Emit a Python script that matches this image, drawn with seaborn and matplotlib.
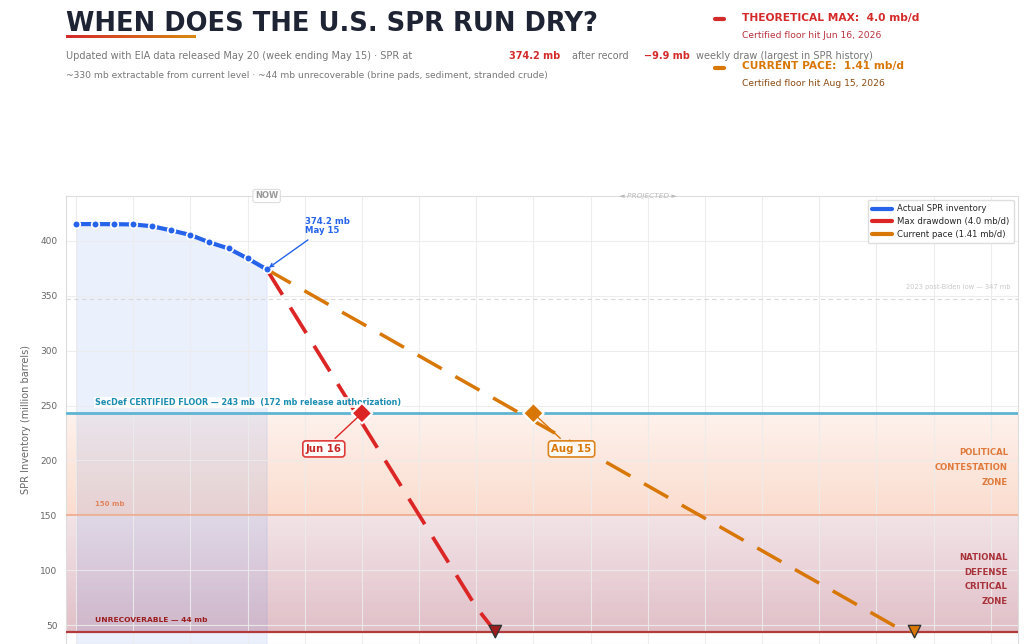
import numpy as np
import pandas as pd
import matplotlib
matplotlib.use("Agg")
import matplotlib.pyplot as plt
import matplotlib.transforms as mtransforms
from matplotlib.lines import Line2D
import seaborn as sns

# ---- data ----
hist_dates = pd.date_range("2026-03-06", "2026-05-15", freq="7D")
hist_mb = [415.4, 415.4, 415.3, 415.1, 413.4, 409.6, 405.5, 398.7, 393.2, 384.1, 374.2]

max_dates = pd.date_range("2026-05-15", periods=13, freq="7D")
max_mb = [374.2, 346.2, 318.2, 290.2, 262.2, 234.2, 206.2, 178.2, 150.2, 122.2,
          94.2, 66.2, 44.0]

pace_dates = pd.date_range("2026-05-15", periods=35, freq="7D")
pace_mb = [374.2, 364.3, 354.5, 344.6, 334.7, 324.9, 315.0, 305.1, 295.3, 285.4,
           275.5, 265.7, 255.8, 245.9, 236.1, 226.2, 216.3, 206.5, 196.6, 186.7,
           176.9, 167.0, 157.1, 147.3, 137.4, 127.5, 117.7, 107.8, 97.9, 88.1,
           78.2, 68.3, 58.5, 48.6, 44.0]

floor_hit_dates = pd.to_datetime(["2026-06-19", "2026-08-21"])
floor_hit_labels = ["Jun 16", "Aug 15"]
dry_dates = pd.to_datetime(["2026-08-07", "2027-01-08"])

floor_mb = 243
mid_mb = 150
unrec_mb = 44
low2023_mb = 347

BLUE = "#2563eb"
RED = "#dc2626"
ORANGE = "#d97706"

sns.set_theme(style="whitegrid")
plt.rcParams["font.family"] = ["DejaVu Sans"]

W, H = 1033, 644
fig = plt.figure(figsize=(W / 100, H / 100), dpi=100)
ax = fig.add_axes([66 / W, 0, 952 / W, 448 / H])


def fx(x):
    return x / W


def fy(y):
    return 1 - y / H


# zones as stacked thin bands (gradient look)
nb = 28
edges = np.linspace(floor_mb, mid_mb, nb + 1)
for i in range(nb):
    ax.axhspan(edges[i + 1], edges[i], color="#f08250", lw=0,
               alpha=0.11 + 0.17 * i / nb, zorder=0.2)
edges = np.linspace(mid_mb, unrec_mb, nb + 1)
for i in range(nb):
    ax.axhspan(edges[i + 1], edges[i], color="#9a2a45", lw=0,
               alpha=0.13 + 0.17 * i / nb, zorder=0.2)

# actual inventory + fill
ax.fill_between(hist_dates, hist_mb, 0, color=BLUE, alpha=0.09,
                edgecolor=(0.15, 0.39, 0.92, 0.25), lw=0.8, zorder=0.3)
sns.lineplot(x=hist_dates, y=hist_mb, ax=ax, color=BLUE, lw=3.0, marker="o",
             markersize=5.5, markeredgecolor="white", markeredgewidth=1.2, zorder=5)

# projections
sns.lineplot(x=max_dates, y=max_mb, ax=ax, color=RED, lw=2.7,
             linestyle=(0, (8, 4)), zorder=4)
sns.lineplot(x=pace_dates, y=pace_mb, ax=ax, color=ORANGE, lw=2.5,
             linestyle=(0, (8, 4.5)), zorder=4)

# reference lines
ax.axhline(floor_mb, color="#5fb4d2", lw=2.0, zorder=3)
ax.axhline(mid_mb, color="#eea484", lw=1.1, zorder=3)
ax.axhline(unrec_mb, color="#b33a3a", lw=1.6, zorder=3)
ax.axhline(low2023_mb, color="#d8d8d8", lw=0.8, linestyle=(0, (4, 3)), zorder=1)

trans = mtransforms.blended_transform_factory(ax.transAxes, ax.transData)
ax.text(0.0305, 248.5, "SecDef CERTIFIED FLOOR \u2014 243 mb  (172 mb release authorization)",
        transform=trans, fontsize=5.8, fontweight="bold", color="#1a8db0",
        va="bottom", ha="left", zorder=6,
        bbox=dict(facecolor="white", edgecolor="none", alpha=0.85, pad=0.6))
ax.text(0.0305, 160, "150 mb", transform=trans, fontsize=5.0, fontweight="bold",
        color="#e0845e", va="center", ha="left", zorder=6)
ax.text(0.0305, 54.5, "UNRECOVERABLE \u2014 44 mb", transform=trans, fontsize=5.4,
        fontweight="bold", color="#9b1c1c", va="center", ha="left", zorder=6)
ax.text(0.9926, 358, "2023 post-Biden low \u2014 347 mb", transform=trans, fontsize=4.8,
        color="#c8c8c8", va="center", ha="right", zorder=6)

ax.text(0.9895, 193.6, "POLITICAL\nCONTESTATION\nZONE", transform=trans,
        fontsize=6.1, fontweight="bold", color="#e07a3c", ha="right", va="center",
        linespacing=1.8, zorder=6)
ax.text(0.9895, 91.4, "NATIONAL\nDEFENSE\nCRITICAL\nZONE", transform=trans,
        fontsize=6.1, fontweight="bold", color="#a8323a", ha="right", va="center",
        linespacing=1.8, zorder=6)

# markers
ax.scatter(floor_hit_dates, [floor_mb, floor_mb], marker="D", s=110,
           c=[RED, ORANGE], edgecolors="white", linewidths=1.5, zorder=7)
ax.scatter(dry_dates, [unrec_mb, unrec_mb], marker="v", s=80,
           c=["#a11d1d", ORANGE], edgecolors="#333333", linewidths=1.0, zorder=7)

box_pos = [(pd.Timestamp("2026-06-05"), 210.5), (pd.Timestamp("2026-09-04"), 210.5)]
box_col = [RED, ORANGE]
text_col = ["#c62828", ORANGE]
for d, lab, (bx, by), c, tc in zip(floor_hit_dates, floor_hit_labels, box_pos, box_col, text_col):
    ax.annotate(lab, xy=(d, floor_mb), xytext=(bx, by), ha="center", va="center",
                fontsize=7.3, fontweight="bold", color=tc,
                bbox=dict(boxstyle="round,pad=0.3", facecolor="white", edgecolor=c,
                          lw=1.2, alpha=0.9),
                arrowprops=dict(arrowstyle="-", color=c, lw=1, shrinkB=4), zorder=8)

ax.annotate("374.2 mb\nMay 15", xy=(hist_dates[-1], hist_mb[-1]),
            xytext=(pd.Timestamp("2026-05-29"), 413.5), ha="left", va="center",
            fontsize=6.1, fontweight="bold", color=BLUE, linespacing=0.95,
            arrowprops=dict(arrowstyle="->", color=BLUE, lw=1, shrinkB=2), zorder=8)

ttop = mtransforms.blended_transform_factory(ax.transData, ax.transAxes)
ax.text(hist_dates[-1], 1.0, "NOW", transform=ttop, fontsize=6.0, fontweight="bold",
        color="#999999", ha="center", va="center", zorder=8,
        bbox=dict(boxstyle="round,pad=0.25", facecolor="white", edgecolor="#dddddd", lw=0.8))
ax.text(pd.Timestamp("2026-10-02"), 1.0, "\u25c4 PROJECTED \u25ba", transform=ttop,
        fontsize=5.3, fontstyle="italic", color="#bbbbbb", ha="center", va="center",
        zorder=8)

# axes styling
ax.set_ylim(32.7, 441)
ax.set_xlim(pd.Timestamp("2026-03-06") - pd.Timedelta(days=3.7), pd.Timestamp("2027-02-15"))
ax.set_xticks(pd.date_range("2026-03-06", "2027-02-15", freq="21D"))
ax.set_xticklabels([])
ax.set_yticks([50, 100, 150, 200, 250, 300, 350, 400])
ax.tick_params(axis="y", length=4, width=0.8, color="#999999", labelcolor="#666666",
               labelsize=6.5, pad=2)
ax.tick_params(axis="x", length=0)
ax.grid(True, color="#ececec", lw=0.8, alpha=0.9)
ax.set_axisbelow(True)
for s in ax.spines.values():
    s.set_color("#dddddd")
    s.set_linewidth(0.8)
ax.set_xlabel("")
ax.set_ylabel("SPR Inventory (million barrels)", fontsize=7, color="#666666", labelpad=7)

handles = [Line2D([], [], color=BLUE, lw=3),
           Line2D([], [], color=RED, lw=3),
           Line2D([], [], color=ORANGE, lw=3)]
ax.legend(handles, ["Actual SPR inventory", "Max drawdown (4.0 mb/d)", "Current pace (1.41 mb/d)"],
          loc="upper right", fontsize=6.1, frameon=True, edgecolor="#dddddd",
          framealpha=0.95, handlelength=2.4, borderpad=0.5, labelspacing=0.45,
          handletextpad=0.6)

# ---- header ----
fig.text(fx(66), fy(24), "WHEN DOES THE U.S. SPR RUN DRY?", fontsize=18.5,
         fontweight="bold", color="#1e2433", va="center", ha="left")
bar_ax = fig.add_axes([fx(66), fy(38.5), 130 / W, 4 / H])
bar_ax.imshow(np.linspace(0, 1, 200)[None, :], aspect="auto",
              cmap=matplotlib.colors.LinearSegmentedColormap.from_list("rb", ["#d42a2a", "#d98a10"]))
bar_ax.axis("off")

fig.text(fx(66), fy(56), "Updated with EIA data released May 20 (week ending May 15) \u00b7 SPR at",
         fontsize=7.0, color="#777777", va="center")
fig.text(fx(509), fy(56), "374.2 mb", fontsize=7.0, color="#d42a2a", fontweight="bold",
         va="center")
fig.text(fx(572), fy(56), "after record", fontsize=6.9, color="#777777", va="center")
fig.text(fx(644), fy(56), "\u22129.9 mb", fontsize=7.0, color="#d42a2a", fontweight="bold",
         va="center")
fig.text(fx(696), fy(56), "weekly draw (largest in SPR history)", fontsize=7.0,
         color="#777777", va="center")
fig.text(fx(66), fy(75), "~330 mb extractable from current level \u00b7 ~44 mb unrecoverable "
         "(brine pads, sediment, stranded crude)", fontsize=6.6, color="#777777",
         va="center")

fig.add_artist(Line2D([fx(715), fx(724)], [fy(18.5), fy(18.5)], color="#d42a2a", lw=3))
fig.add_artist(Line2D([fx(715), fx(724)], [fy(67.5), fy(67.5)], color=ORANGE, lw=3))
fig.text(fx(742), fy(18), "THEORETICAL MAX:  4.0 mb/d", fontsize=7.65, fontweight="bold",
         color="#d42a2a", va="center")
fig.text(fx(742), fy(36), "Certified floor hit Jun 16, 2026", fontsize=6.55,
         color="#b8323c", va="center")
fig.text(fx(742), fy(66), "CURRENT PACE:  1.41 mb/d", fontsize=7.65, fontweight="bold",
         color=ORANGE, va="center")
fig.text(fx(742), fy(84), "Certified floor hit Aug 15, 2026", fontsize=6.55,
         color="#8b4a12", va="center")

fig.savefig("out.png", dpi=100)
